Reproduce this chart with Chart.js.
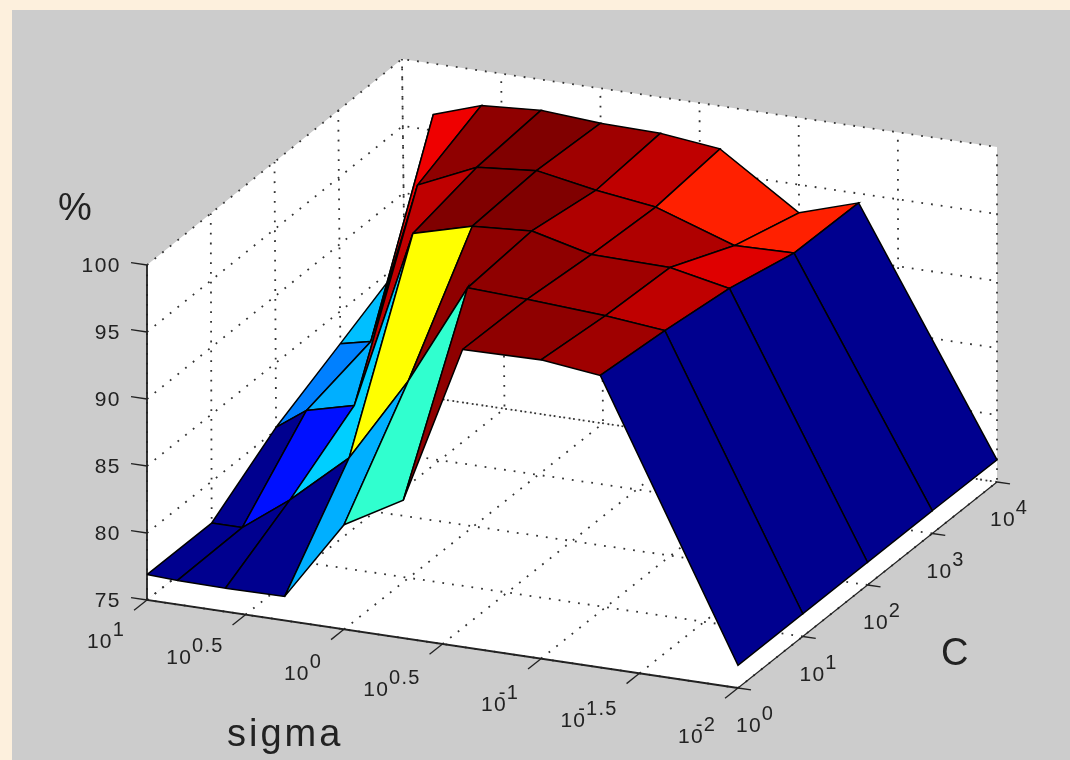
<!DOCTYPE html>
<html>
<head>
<meta charset="utf-8">
<title>sigma / C grid search</title>
<script src="https://cdn.jsdelivr.net/npm/chart.js@4/dist/chart.umd.js"></script>
<style>
  body { margin: 0; background: #fdf0dd; }
  #panel { position: absolute; left: 12px; top: 10px; right: 0; bottom: 0; background: #cccccc; }
  #surface-chart-canvas { position: absolute; left: 0; top: 0; }
</style>
</head>
<body>
<div id="panel"></div>
<canvas id="surface-chart-canvas" width="1070" height="760"></canvas>
<script>
const sigmaValues = [10, 7, 4, 2, 1, 0.5, 0.25, 0.1, 0.05, 0.01];
const cValues = [1, 10, 100, 1000, 10000];

// accuracy (%) along sigmaValues, one list per C
const accC1 = [76.9, 76.8, 76.75, 76.8, 82.8, 85.3, 97.2, 97.3, 96.8, 76.7];
const accC10 = [76.9, 76.9, 79.5, 83.3, 89.7, 97.3, 97.1, 96.75, 96.3, 76.7];
const accC100 = [80.2, 81.8, 82.7, 96.2, 97.4, 97.7, 96.6, 96.5, 95.6, 76.7];
const accC1000 = [82.6, 83.1, 95.3, 97.3, 97.7, 96.9, 96.3, 94.3, 94.4, 76.7];
const accC10000 = [85.0, 96.2, 97.4, 97.7, 97.4, 97.3, 96.8, 92.9, 94.3, 76.65];
const accRows = [accC1, accC10, accC100, accC1000, accC10000];

const sigmaTickPowers = [1, 0.5, 0, -0.5, -1, -1.5, -2];
const sigmaTickLabels = ['1', '0.5', '0', '0.5', '-1', '-1.5', '-2'];
const cTickPowers = [0, 1, 2, 3, 4];
const cTickLabels = ['0', '1', '2', '3', '4'];
const zTicks = [75, 80, 85, 90, 95, 100];

// view of the MATLAB box, result is in chart units. The x lean is a small
// correction for the slightly skewed back corner of the screenshot
function project(t, u, z) {
  return {
    x: 147 + 591 * t + 259 * u - 4 * u * (1 - t) * (z - 75) / 25,
    y: 600 + 88 * t - 206 * u - 13.4 * (z - 75),
  };
}
const sigmaPos = (power) => (1 - power) / 3;
const cPos = (power) => power / 4;

// MATLAB jet(64)
function jet(v) {
  const n = Math.min(63, Math.floor(v * 64));
  const x = (n + 1) / 64;
  const c = (k) => Math.round(255 * Math.max(0, Math.min(1, 1.5 - Math.abs(4 * x - k))));
  return 'rgb(' + c(3) + ',' + c(2) + ',' + c(1) + ')';
}

const datasets = [];

function addLine(points, color, width, dash) {
  datasets.push({
    data: points,
    showLine: true,
    fill: false,
    borderColor: color,
    borderWidth: width,
    borderDash: dash || [],
    pointRadius: 0,
    tension: 0,
    clip: false,
  });
}

function addFace(points, fillColor, lineColor, width) {
  datasets.push({
    data: points.concat([points[0]]),
    showLine: true,
    fill: 'shape',
    backgroundColor: fillColor,
    borderColor: lineColor,
    borderWidth: width,
    pointRadius: 0,
    tension: 0,
    clip: false,
  });
}

// white box walls
addFace([project(0, 0, 75), project(1, 0, 75), project(1, 1, 75), project(0, 1, 75)], '#fff', '#fff', 0);
addFace([project(0, 0, 75), project(0, 1, 75), project(0, 1, 100), project(0, 0, 100)], '#fff', '#fff', 0);
addFace([project(0, 1, 75), project(1, 1, 75), project(1, 1, 100), project(0, 1, 100)], '#fff', '#fff', 0);

// dotted grid
const dots = [1.8, 8];
sigmaTickPowers.forEach((p) => {
  const t = sigmaPos(p);
  addLine([project(t, 0, 75), project(t, 1, 75), project(t, 1, 100)], '#333', 1.8, dots);
});
cTickPowers.forEach((p) => {
  const u = cPos(p);
  addLine([project(1, u, 75), project(0, u, 75), project(0, u, 100)], '#333', 1.8, dots);
});
zTicks.forEach((z) => {
  addLine([project(0, 0, z), project(0, 1, z), project(1, 1, z)], '#333', 1.8, dots);
});

// axes and tick marks
addLine([project(0, 0, 100), project(0, 0, 75), project(1, 0, 75)], '#222', 1.8);
addLine([project(1, 0, 75), project(1, 1, 75)], '#222', 1.2);
zTicks.forEach((z) => {
  addLine([project(0, 0, z), project(-0.027, 0, z)], '#222', 1.3);
});
sigmaTickPowers.forEach((p) => {
  const t = sigmaPos(p);
  addLine([project(t, 0, 75), project(t, -0.05, 75)], '#222', 1.3);
});
cTickPowers.forEach((p) => {
  const u = cPos(p);
  addLine([project(1, u, 75), project(1.022, u, 75)], '#222', 1.3);
});

// surface, far cells first. A face takes its colour from its low sigma, low C corner
const allAcc = accRows.flat();
const zMin = Math.min(...allAcc);
const zMax = Math.max(...allAcc);
const sigmaT = sigmaValues.map((s) => sigmaPos(Math.log10(s)));
const cU = cValues.map((c) => cPos(Math.log10(c)));

for (let j = cValues.length - 2; j >= 0; j--) {
  for (let i = 0; i < sigmaValues.length - 1; i++) {
    const face = [
      project(sigmaT[i], cU[j], accRows[j][i]),
      project(sigmaT[i + 1], cU[j], accRows[j][i + 1]),
      project(sigmaT[i + 1], cU[j + 1], accRows[j + 1][i + 1]),
      project(sigmaT[i], cU[j + 1], accRows[j + 1][i]),
    ];
    addFace(face, jet((accRows[j][i + 1] - zMin) / (zMax - zMin)), '#000', 1.5);
  }
}

// later entries paint on top
datasets.forEach((d, idx) => { d.order = datasets.length - idx; });

const tickFont = '21px "Liberation Sans"';
const powerFont = '20px "Liberation Sans"';

function drawPower(ctx, base, exponent, x, y, rightAlign) {
  ctx.letterSpacing = '1.2px';
  ctx.font = tickFont;
  const baseWidth = ctx.measureText(base).width;
  ctx.font = powerFont;
  const expWidth = ctx.measureText(exponent).width;
  // a negative power starts above the base number
  const expShift = exponent[0] === '-' ? -8 : 0;
  const left = rightAlign ? x - baseWidth - expWidth - expShift : x;
  ctx.font = tickFont;
  ctx.fillText(base, left, y);
  ctx.font = powerFont;
  ctx.fillText(exponent, left + baseWidth + expShift, y - 12);
  ctx.letterSpacing = '0px';
}

const axisText = {
  id: 'axisText',
  afterDraw(chart) {
    const ctx = chart.ctx;
    const sx = chart.scales.x;
    const sy = chart.scales.y;
    ctx.save();
    ctx.fillStyle = '#222';
    ctx.textBaseline = 'alphabetic';

    ctx.font = tickFont;
    ctx.letterSpacing = '1.5px';
    ctx.textAlign = 'right';
    zTicks.forEach((z) => {
      const p = project(0, 0, z);
      ctx.fillText(String(z), sx.getPixelForValue(p.x) - 26, sy.getPixelForValue(p.y) + 7);
    });
    ctx.letterSpacing = '0px';
    ctx.textAlign = 'left';

    sigmaTickPowers.forEach((power, i) => {
      const t = sigmaPos(power);
      const p = project(t, 0, 75);
      drawPower(ctx, '10', sigmaTickLabels[i], sx.getPixelForValue(p.x) - 22, sy.getPixelForValue(p.y) + 48 + 7 * t, true);
    });
    cTickPowers.forEach((power, i) => {
      const u = cPos(power);
      const p = project(1, u, 75);
      drawPower(ctx, '10', cTickLabels[i], sx.getPixelForValue(p.x) - 2 - 5 * u, sy.getPixelForValue(p.y) + 44, false);
    });

    ctx.font = '38px "Liberation Sans"';
    ctx.fillText('%', 58, 220);
    ctx.fillText('C', 941, 665);
    ctx.letterSpacing = '3px';
    ctx.fillText('sigma', 227, 746);
    ctx.restore();
  },
};

const surfaceChart = new Chart('surface-chart-canvas', {
  type: 'scatter',
  data: { datasets: datasets },
  plugins: [axisText],
  options: {
    responsive: false,
    animation: false,
    events: [],
    layout: { padding: 0 },
    scales: {
      x: { type: 'linear', min: 0, max: 1070, display: false },
      y: { type: 'linear', min: 0, max: 760, reverse: true, display: false },
    },
    plugins: {
      legend: { display: false },
      tooltip: { enabled: false },
    },
  },
});
</script>
</body>
</html>
